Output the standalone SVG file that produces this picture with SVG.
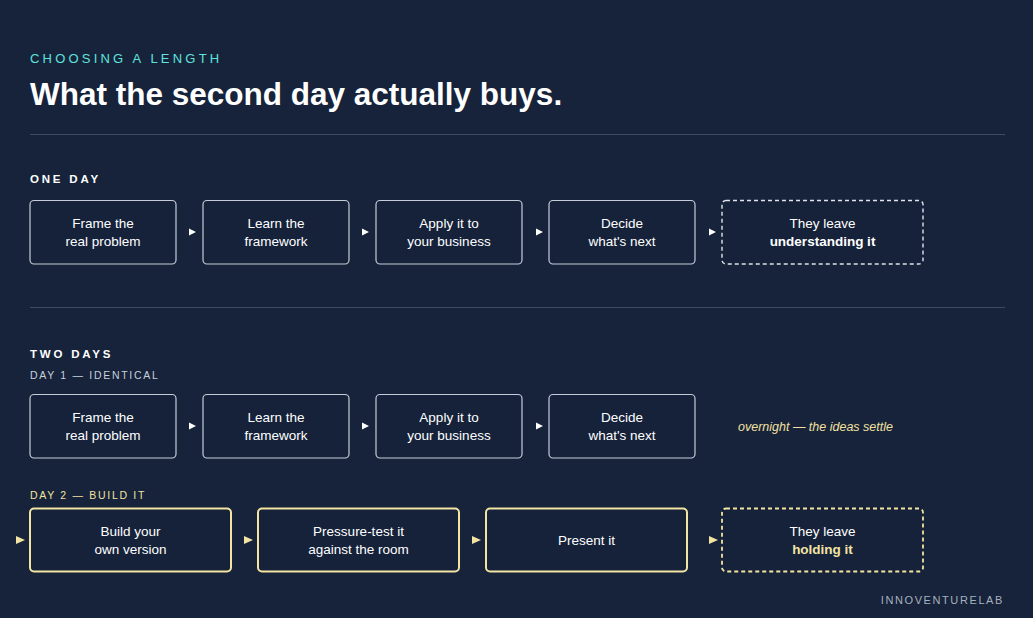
<svg xmlns="http://www.w3.org/2000/svg" width="1033" height="618" viewBox="0 0 1033 618">
<style>
.bg{fill:#16233a}
.box{fill:#15223a;stroke:#c5cdd8;stroke-width:1.2}
.dash{fill:#15223a;stroke:#dfe4ea;stroke-width:1.4;stroke-dasharray:4 3}
.ybox{fill:#15223a;stroke:#f3e4a2;stroke-width:2}
.ydash{fill:#15223a;stroke:#f3e4a2;stroke-width:1.8;stroke-dasharray:4 3}
.t{font-family:"Liberation Sans",Arial,sans-serif;font-size:13.5px;fill:#ffffff;text-anchor:middle}
.b{font-weight:bold}
.lab{font-family:"Liberation Sans",Arial,sans-serif;font-weight:bold;font-size:11.5px;letter-spacing:2.8px;fill:#ffffff}
.sub{font-family:"Liberation Sans",Arial,sans-serif;font-size:10.5px;letter-spacing:1.7px;fill:#c9d0dc}
.rule{stroke:#3c4b63;stroke-width:1}
.arr{fill:#ffffff}
.yarr{fill:#f3e4a2}
</style>
<rect class="bg" x="0" y="0" width="1033" height="618"/>
<text x="30" y="63" font-family="'Liberation Sans',Arial,sans-serif" font-size="13px" letter-spacing="3.2px" fill="#5fe3df">CHOOSING A LENGTH</text>
<text x="30" y="105" font-family="'Liberation Sans',Arial,sans-serif" font-size="31.5px" font-weight="bold" fill="#ffffff">What the second day actually buys.</text>
<line class="rule" x1="30" y1="134.5" x2="1005" y2="134.5"/>
<text class="lab" x="30" y="183">ONE DAY</text>
<g id="connectors">
<path class="arr" d="M189 228.5 L196 232 L189 235.5 Z"/>
<path class="arr" d="M362 228.5 L369 232 L362 235.5 Z"/>
<path class="arr" d="M536 228.5 L543 232 L536 235.5 Z"/>
<path class="arr" d="M709 228.5 L716 232 L709 235.5 Z"/>
<path class="arr" d="M189 422.5 L196 426 L189 429.5 Z"/>
<path class="arr" d="M362 422.5 L369 426 L362 429.5 Z"/>
<path class="arr" d="M536 422.5 L543 426 L536 429.5 Z"/>
<path class="yarr" d="M16 536 L25 540 L16 544 Z"/>
<path class="yarr" d="M244 536 L253 540 L244 544 Z"/>
<path class="yarr" d="M472 536 L481 540 L472 544 Z"/>
<path class="yarr" d="M709 536 L718 540 L709 544 Z"/>
</g>
<g id="r1n1"><rect class="box" x="30" y="200.5" width="146" height="63.5" rx="4"/><text class="t" x="103" y="228">Frame the</text><text class="t" x="103" y="246">real problem</text></g>
<g id="r1n2"><rect class="box" x="203" y="200.5" width="146" height="63.5" rx="4"/><text class="t" x="276" y="228">Learn the</text><text class="t" x="276" y="246">framework</text></g>
<g id="r1n3"><rect class="box" x="376" y="200.5" width="146" height="63.5" rx="4"/><text class="t" x="449" y="228">Apply it to</text><text class="t" x="449" y="246">your business</text></g>
<g id="r1n4"><rect class="box" x="549" y="200.5" width="146" height="63.5" rx="4"/><text class="t" x="622" y="228">Decide</text><text class="t" x="622" y="246">what's next</text></g>
<g id="r1n5"><rect class="dash" x="722" y="200.5" width="201" height="63.5" rx="4"/><text class="t" x="822.5" y="228">They leave</text><text class="t b" x="822.5" y="246">understanding it</text></g>
<line class="rule" x1="30" y1="307.5" x2="1005" y2="307.5"/>
<text class="lab" x="30" y="358">TWO DAYS</text>
<text class="sub" x="30" y="379">DAY 1 — IDENTICAL</text>
<g id="r2n1"><rect class="box" x="30" y="394.5" width="146" height="63.5" rx="4"/><text class="t" x="103" y="422">Frame the</text><text class="t" x="103" y="440">real problem</text></g>
<g id="r2n2"><rect class="box" x="203" y="394.5" width="146" height="63.5" rx="4"/><text class="t" x="276" y="422">Learn the</text><text class="t" x="276" y="440">framework</text></g>
<g id="r2n3"><rect class="box" x="376" y="394.5" width="146" height="63.5" rx="4"/><text class="t" x="449" y="422">Apply it to</text><text class="t" x="449" y="440">your business</text></g>
<g id="r2n4"><rect class="box" x="549" y="394.5" width="146" height="63.5" rx="4"/><text class="t" x="622" y="422">Decide</text><text class="t" x="622" y="440">what's next</text></g>
<text x="738" y="431" font-family="'Liberation Sans',Arial,sans-serif" font-size="12.5px" font-style="italic" fill="#f3e0a0">overnight — the ideas settle</text>
<text class="sub" x="30" y="499" style="fill:#f3e4a2">DAY 2 — BUILD IT</text>
<g id="r3n1"><rect class="ybox" x="30" y="508.5" width="201" height="63" rx="4"/><text class="t" x="130.5" y="536">Build your</text><text class="t" x="130.5" y="554">own version</text></g>
<g id="r3n2"><rect class="ybox" x="258" y="508.5" width="201" height="63" rx="4"/><text class="t" x="358.5" y="536">Pressure-test it</text><text class="t" x="358.5" y="554">against the room</text></g>
<g id="r3n3"><rect class="ybox" x="486" y="508.5" width="201" height="63" rx="4"/><text class="t" x="586.5" y="545">Present it</text></g>
<g id="r3n4"><rect class="ydash" x="722" y="508.5" width="201" height="63" rx="4"/><text class="t" x="822.5" y="536">They leave</text><text class="t b" x="822.5" y="554" style="fill:#f3e4a2">holding it</text></g>
<text x="1004" y="604" text-anchor="end" font-family="'Liberation Sans',Arial,sans-serif" font-size="11px" letter-spacing="1.6px" fill="#a8b1bf">INNOVENTURELAB</text>
</svg>
